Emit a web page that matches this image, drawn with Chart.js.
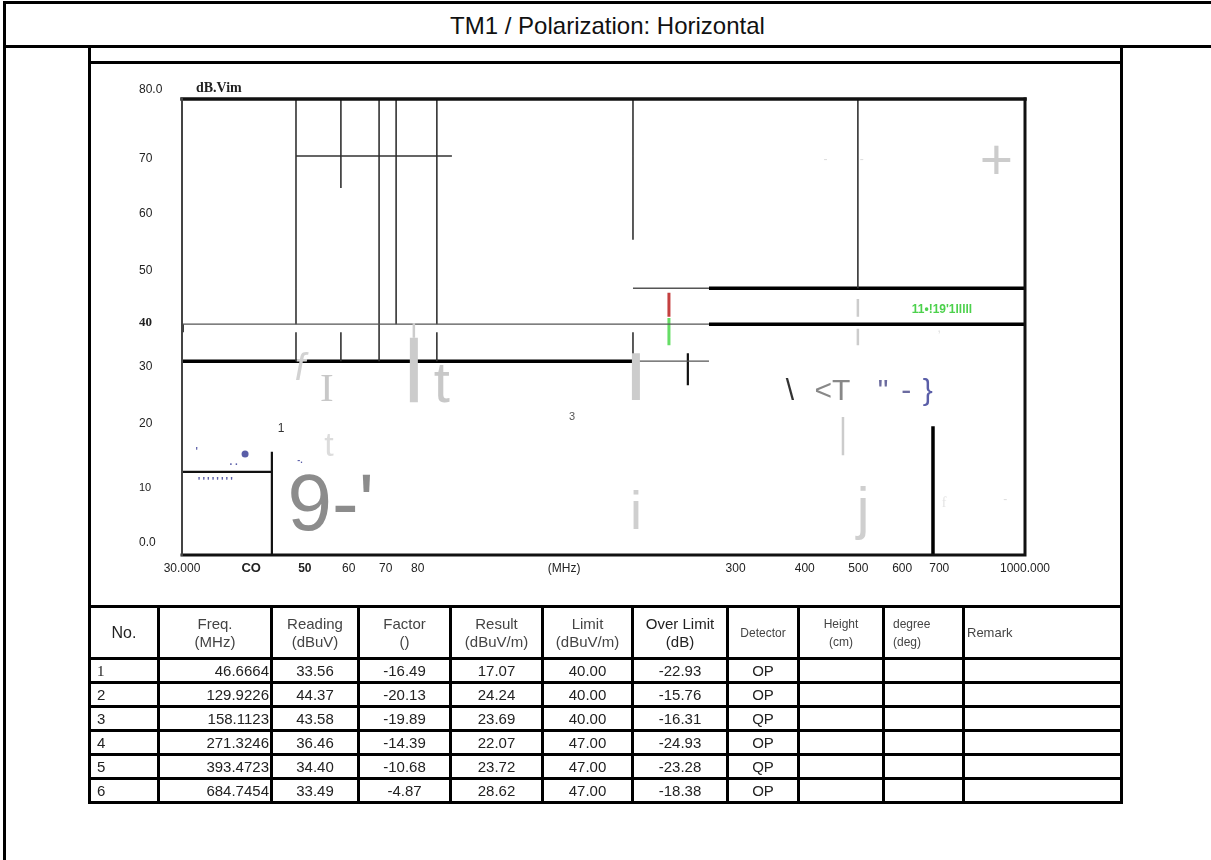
<!DOCTYPE html>
<html>
<head>
<meta charset="utf-8">
<title>TM1 / Polarization: Horizontal</title>
<script src="https://cdn.jsdelivr.net/npm/chart.js@4.4.0/dist/chart.umd.min.js"></script>
<style>
  body { margin: 0; background: #fff; font-family: "Liberation Sans", Arial, sans-serif; }
  #page { position: relative; width: 1211px; height: 860px; overflow: hidden; background: #fff; }
  .ln { position: absolute; background: #000; }
  #title { position: absolute; left: 4px; right: 0; top: 3px; height: 43px; line-height: 46px;
           text-align: center; font-size: 24px; color: #111; }
  #plot { position: absolute; left: 89px; top: 62px; }
  #results { position: absolute; left: 88px; top: 605px; border-collapse: collapse; table-layout: fixed; }
  #results td, #results th { border: 3px solid #000; padding: 0; font-weight: normal; overflow: hidden; white-space: nowrap; }
  #results th { height: 49px; font-size: 15px; line-height: 18px; color: #444; text-align: center; }
  #results td { height: 21px; font-size: 15px; line-height: 18px; color: #222; text-align: center; }
  #results td.no { text-align: left; padding-left: 6px; }
  #results td.fq { text-align: right; padding-right: 1px; }
  #results td.serif { font-family: "Liberation Serif", serif; }
</style>
</head>
<body>
<div id="page">
  <div class="ln" style="left:3px;top:1px;width:1208px;height:3px"></div>
  <div class="ln" style="left:3px;top:1px;width:3px;height:859px"></div>
  <div class="ln" style="left:3px;top:45px;width:1208px;height:3px"></div>
  <div class="ln" style="left:88px;top:45px;width:3px;height:759px"></div>
  <div class="ln" style="left:1120px;top:45px;width:3px;height:759px"></div>
  <div class="ln" style="left:88px;top:61px;width:1035px;height:3px"></div>
  <div id="title">TM1 / Polarization: Horizontal</div>
  <canvas id="plot" width="1032" height="545"></canvas>
  <table id="results">
    <colgroup>
      <col style="width:69px"><col style="width:113px"><col style="width:87px"><col style="width:92px">
      <col style="width:92px"><col style="width:90px"><col style="width:95px"><col style="width:71px">
      <col style="width:85px"><col style="width:80px"><col style="width:158px">
    </colgroup>
    <thead>
      <tr>
        <th style="font-size:16px;color:#222">No.</th>
        <th>Freq.<br>(MHz)</th>
        <th>Reading<br>(dBuV)</th>
        <th>Factor<br>()</th>
        <th>Result<br>(dBuV/m)</th>
        <th>Limit<br>(dBuV/m)</th>
        <th style="color:#222">Over Limit<br>(dB)</th>
        <th style="font-size:12px">Detector</th>
        <th style="font-size:12px">Height<br>(cm)</th>
        <th style="font-size:12px;text-align:left;padding-left:8px">degree<br>(deg)</th>
        <th style="font-size:13px;text-align:left;padding-left:2px">Remark</th>
      </tr>
    </thead>
    <tbody id="rows"></tbody>
  </table>
</div>

<script>
// ===================================
// Data
// ===================================

// Marker table
const markerNo = ['1', '2', '3', '4', '5', '6'];
const markerFreq = ['46.6664', '129.9226', '158.1123', '271.3246', '393.4723', '684.7454'];
const reading = ['33.56', '44.37', '43.58', '36.46', '34.40', '33.49'];
const factor = ['-16.49', '-20.13', '-19.89', '-14.39', '-10.68', '-4.87'];
const result = ['17.07', '24.24', '23.69', '22.07', '23.72', '28.62'];
const limit = ['40.00', '40.00', '40.00', '47.00', '47.00', '47.00'];
const overLimit = ['-22.93', '-15.76', '-16.31', '-24.93', '-23.28', '-18.38'];
const detector = ['OP', 'OP', 'QP', 'OP', 'QP', 'OP'];

// Axis ticks (MHz / dBuV/m), labels as printed
const xTickValues = [30, 40, 50, 60, 70, 80, 147, 300, 400, 500, 600, 700, 1000];
const xTickLabels = ['30.000', 'CO', '50', '60', '70', '80', '(MHz)', '300', '400', '500', '600', '700', '1000.000'];
// the printed y labels do not sit exactly on their values
const yTickValues = [2.1, 11.75, 23, 33, 40.7, 49.8, 59.8, 69.6, 81.7];
const yTickLabels = ['0.0', '10', '20', '30', '40', '50', '60', '70', '80.0'];

// Line pieces: [freq1, level1, freq2, level2]
const thinDark = [
    [48.2, 80, 48.2, 40.5], [48.2, 39.1, 48.2, 34],
    [58.1, 80, 58.1, 64.4], [58.1, 39.1, 58.1, 34],
    [68.1, 80, 68.1, 34],
    [73.1, 80, 73.1, 40.5],
    [86.6, 80, 86.6, 40.5], [86.6, 39.1, 86.6, 34],
    [48.2, 70, 92.2, 70],
    [195.8, 80, 195.8, 55.3], [195.8, 39.1, 195.8, 34],
    [499, 80, 499, 46.8]
];
const thinGrey = [
    [30, 40.5, 268.6, 40.5], [195.8, 46.8, 268.6, 46.8], [195.8, 34, 268.6, 34]
];
const mediumBlack = [
    [43.6, 18.1, 43.6, 0], [30, 14.6, 43.6, 14.6], [246, 35.4, 246, 29.8]
];
const thickBlack = [
    [30, 34, 195.8, 34], [268.6, 46.8, 1000, 46.8], [268.6, 40.5, 1000, 40.5],
    [682, 22.6, 682, 0], [30, 40.5, 30, 39.1]
];
const redPiece = [[227.4, 46, 227.4, 41.8]];
const greenPiece = [[227.4, 41.6, 227.4, 36.8]];
const greyBars = [[78.7, 38.1, 78.7, 26.8], [198.2, 35.4, 198.2, 27.2]];
const greyThin = [
    [78.7, 40.7, 78.7, 38.1], [499, 44.9, 499, 41.8], [499, 39.7, 499, 36.8], [469, 24.2, 469, 17.5]
];
const peakDot = [{ x: 39.0, y: 17.7 }];

// Stray glyphs printed in the plot: [freq, level (baseline), text]
const glyphText = [
    [45.3, 21.6, '1'], [152, 23.7, '3'], [55.7, 4.4, "9-'"],
    [49.0, 30.7, 'f'], [54.8, 27.0, 'I'], [55.3, 17.4, 't'], [88.4, 26.8, 't'],
    [198.2, 4.6, 'i'], [376, 27.2, '\\'], [449, 27.2, '<T'], [554, 27.2, '"'],
    [610, 27.2, '-'], [667, 27.2, '}'], [510, 4.7, 'j'], [708, 42.5, "11•!19'1lllll"],
    [888, 66, '+'], [436, 68.8, '-'], [507, 68.8, '-'], [714, 8.4, 'f'], [921, 9.1, '-'],
    [700, 39.2, ','], [31.9, 17.5, "'"], [37.2, 15.8, '. .'], [34.6, 12.3, "''''''''"], [49.0, 16.1, '-.']
];

// ===================================
// Table
// ===================================
const rowsEl = document.getElementById('rows');
markerNo.forEach((no, i) => {
    const tr = document.createElement('tr');
    tr.innerHTML = `
        <td class="no ${i === 0 ? 'serif' : ''}">${no}</td>
        <td class="fq">${markerFreq[i]}</td>
        <td>${reading[i]}</td>
        <td>${factor[i]}</td>
        <td>${result[i]}</td>
        <td>${limit[i]}</td>
        <td>${overLimit[i]}</td>
        <td>${detector[i]}</td>
        <td></td><td></td><td></td>`;
    rowsEl.appendChild(tr);
});

// ===================================
// Chart
// ===================================
const SANS = '"Liberation Sans", Arial, sans-serif';
const SERIF = '"Liberation Serif", "Times New Roman", serif';

function pieces(list) {
    const pts = [];
    list.forEach(([f1, l1, f2, l2]) => {
        pts.push({ x: f1, y: l1 }, { x: f2, y: l2 }, { x: f2, y: null });
    });
    return pts;
}

function lineSet(list, color, width) {
    return {
        data: pieces(list),
        showLine: true,
        borderColor: color,
        borderWidth: width,
        borderCapStyle: 'butt',
        pointRadius: 0,
        spanGaps: false
    };
}

// style per glyph, same order as glyphText
const glyphStyle = [
    ['12px ' + SANS, '#333'], ['11px ' + SANS, '#555'], ['80px ' + SANS, '#8c8c8c'],
    ['italic 38px ' + SANS, '#d2d2d2'], ['41px ' + SERIF, '#c8c8c8'], ['34px ' + SANS, '#dcdcdc'], ['58px ' + SANS, '#c8c8c8'],
    ['54px ' + SANS, '#cfcfcf'], ['30px ' + SANS, '#333'], ['30px ' + SANS, '#888'], ['30px ' + SANS, '#6b6b9e'],
    ['30px ' + SANS, '#6b6ba0'], ['30px ' + SANS, '#5a5ea8'], ['57px ' + SANS, '#cfcfcf'], ['bold 12px ' + SANS, '#4cd14c'],
    ['57px ' + SANS, '#cccccc'], ['12px ' + SANS, '#dddddd'], ['12px ' + SANS, '#dddddd'], ['14px ' + SERIF, '#e4e4e4'], ['12px ' + SANS, '#dddddd'],
    ['12px ' + SANS, '#dddddd'], ['bold 10px ' + SANS, '#5a5ea8'], ['bold 10px ' + SANS, '#5a5ea8'], ['bold 11px ' + SANS, '#5a5ea8'], ['bold 9px ' + SANS, '#5a5ea8']
];

const framePlugin = {
    id: 'frame',
    afterDatasetsDraw(chart) {
        const { ctx, chartArea: a } = chart;
        ctx.save();
        ctx.lineCap = 'square';
        ctx.strokeStyle = '#111';
        ctx.lineWidth = 3.5;
        ctx.beginPath(); ctx.moveTo(a.left, a.top); ctx.lineTo(a.right, a.top); ctx.stroke();
        ctx.lineWidth = 3;
        ctx.beginPath(); ctx.moveTo(a.right, a.top); ctx.lineTo(a.right, a.bottom); ctx.lineTo(a.left, a.bottom); ctx.stroke();
        ctx.strokeStyle = '#444';
        ctx.lineWidth = 2;
        ctx.beginPath(); ctx.moveTo(a.left, a.top); ctx.lineTo(a.left, a.bottom); ctx.stroke();

        // unit label next to the top tick
        ctx.font = 'bold 14px ' + SERIF;
        ctx.fillStyle = '#222';
        ctx.textAlign = 'left';
        ctx.textBaseline = 'alphabetic';
        ctx.fillText('dB.Vim', a.left + 14, a.top - 7);
        ctx.restore();
    }
};

const glyphPlugin = {
    id: 'glyphs',
    afterDatasetsDraw(chart) {
        const { ctx, scales: { x, y } } = chart;
        ctx.save();
        ctx.textAlign = 'center';
        ctx.textBaseline = 'alphabetic';
        glyphText.forEach(([f, lv, text], i) => {
            const [font, color] = glyphStyle[i];
            ctx.font = font;
            ctx.fillStyle = color;
            ctx.letterSpacing = text === "''''''''" ? '2px' : '0px';
            ctx.fillText(text, x.getPixelForValue(f), y.getPixelForValue(lv));
        });
        ctx.restore();
    }
};

new Chart(document.getElementById('plot'), {
    type: 'scatter',
    data: {
        datasets: [
            lineSet(greyBars, '#cccccc', 8),
            lineSet(greyThin, '#cccccc', 2.5),
            lineSet(thinGrey, '#555', 1.3),
            lineSet(thinDark, '#333', 1.6),
            lineSet(mediumBlack, '#111', 2.2),
            lineSet(thickBlack, '#000', 3.5),
            lineSet(redPiece, '#c44040', 3),
            lineSet(greenPiece, '#66dd66', 3),
            {
                data: peakDot,
                pointRadius: 3.5,
                pointBackgroundColor: '#5a5ea8',
                pointBorderWidth: 0
            }
        ]
    },
    options: {
        responsive: false,
        animation: false,
        layout: { padding: { left: 50, top: 37, right: 96, bottom: 0 } },
        plugins: {
            legend: { display: false },
            tooltip: { enabled: false }
        },
        scales: {
            x: {
                type: 'logarithmic',
                min: 30,
                max: 1000,
                grid: { display: false, drawTicks: false },
                border: { display: false },
                afterBuildTicks: (scale) => { scale.ticks = xTickValues.map(v => ({ value: v })); },
                afterFit: (scale) => { scale.height = 52; },
                ticks: {
                    autoSkip: false,
                    maxRotation: 0,
                    padding: 6,
                    color: '#222',
                    callback: (value, index) => xTickLabels[index],
                    font: (ctx) => {
                        const label = xTickLabels[ctx.index];
                        if (label === 'CO') return { family: SANS, size: 13, weight: 'bold' };
                        if (label === '50') return { family: SANS, size: 12, weight: 'bold' };
                        return { family: SANS, size: 12 };
                    }
                }
            },
            y: {
                min: 0,
                max: 80,
                grid: { display: false, drawTicks: false },
                border: { display: false },
                afterBuildTicks: (scale) => { scale.ticks = yTickValues.map(v => ({ value: v })); },
                afterFit: (scale) => { scale.width = 43; },
                ticks: {
                    autoSkip: false,
                    crossAlign: 'far',
                    padding: 0,
                    color: '#222',
                    callback: (value, index) => yTickLabels[index],
                    font: (ctx) => {
                        const label = yTickLabels[ctx.index];
                        if (label === '40') return { family: SERIF, size: 13, weight: 'bold' };
                        if (label === '10') return { family: SANS, size: 11 };
                        return { family: SANS, size: 12 };
                    }
                }
            }
        }
    },
    plugins: [framePlugin, glyphPlugin]
});
</script>
</body>
</html>
